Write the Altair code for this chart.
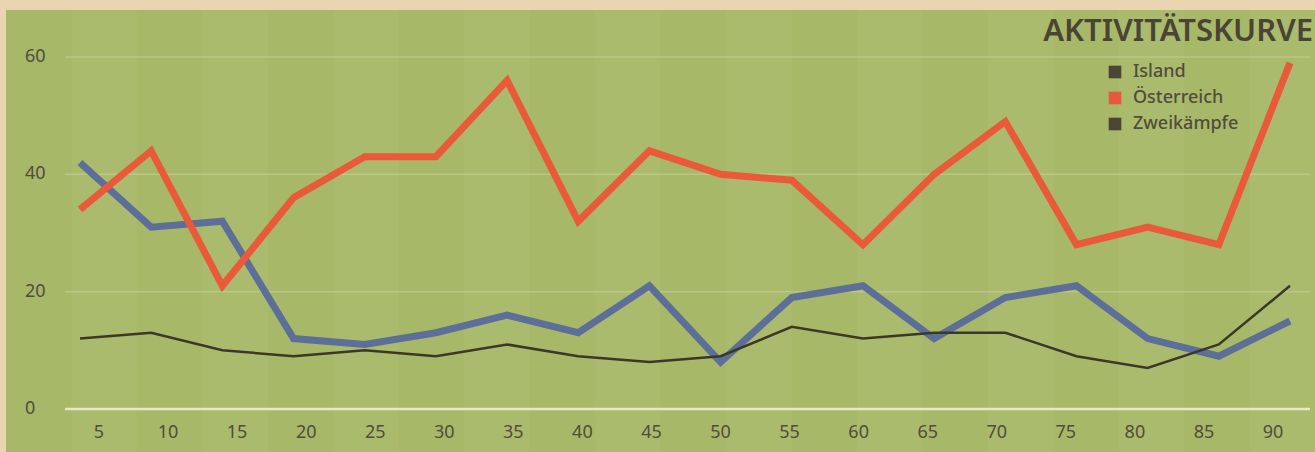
import altair as alt
import pandas as pd

# Match minutes (5-minute intervals)
minutes = [5, 10, 15, 20, 25, 30, 35, 40, 45, 50, 55, 60, 65, 70, 75, 80, 85, 90]

# Activity values per interval
island = [42, 31, 32, 12, 11, 13, 16, 13, 21, 8, 19, 21, 12, 19, 21, 12, 9, 15]
oesterreich = [34, 44, 21, 36, 43, 43, 56, 32, 44, 40, 39, 28, 40, 49, 28, 31, 28, 59]
zweikaempfe = [12, 13, 10, 9, 10, 9, 11, 9, 8, 9, 14, 12, 13, 13, 9, 7, 11, 21]

series_names = ["Island", "Österreich", "Zweikämpfe"]
line_colors = ["#5d6f98", "#e9593a", "#3b3829"]
legend_colors = ["#4b4536", "#e55a3c", "#4b4536"]

y_ticks = [0, 20, 40, 60]
x_ticks = minutes

TEXT = "#524c3c"
FONT = "Noto Sans"

W, H = 1235, 352

df = pd.DataFrame({
    "minute": minutes * 3,
    "value": island + oesterreich + zweikaempfe,
    "series": ["Island"] * 18 + ["Österreich"] * 18 + ["Zweikämpfe"] * 18,
})

x_scale = alt.Scale(domain=[5, 90], range=[15, 1225])
y_scale = alt.Scale(domain=[0, 60])

# green pitch background with faint mowing stripes
green = alt.Chart(pd.DataFrame({"k": [0]})).mark_rect(color="#aab96b").encode(
    x=alt.value(-59), x2=alt.value(1250), y=alt.value(-47), y2=alt.value(395)
)
n_stripes = 20
stripes_df = pd.DataFrame({
    "a": list(range(n_stripes)),
    "b": [i + 1 for i in range(n_stripes)],
    "shade": ["a" if i % 2 == 0 else "b" for i in range(n_stripes)],
})
stripes = alt.Chart(stripes_df).mark_rect(opacity=0.3).encode(
    x=alt.X("a:Q", scale=alt.Scale(domain=[0, n_stripes], range=[-59, 1250]), axis=None),
    x2="b:Q",
    y=alt.value(-47), y2=alt.value(395),
    color=alt.Color("shade:N", scale=alt.Scale(domain=["a", "b"], range=["#a6b567", "#b1bf73"]), legend=None),
)

# faint grid lines and the white zero line
grid = alt.Chart(pd.DataFrame({"v": [20, 40, 60]})).mark_rule(
    color="#f4f0d8", opacity=0.25, strokeWidth=1.5
).encode(y=alt.Y("v:Q", scale=y_scale, axis=None), x=alt.value(0), x2=alt.value(1245))
zero = alt.Chart(pd.DataFrame({"v": [0]})).mark_rule(
    color="#f2ecd0", opacity=0.9, strokeWidth=2.5
).encode(y=alt.Y("v:Q", scale=y_scale, axis=None), x=alt.value(0), x2=alt.value(1245))

# y tick labels
y_labels = alt.Chart(pd.DataFrame({"v": y_ticks})).mark_text(
    align="left", baseline="middle", font=FONT, fontSize=18, color=TEXT
).encode(y=alt.Y("v:Q", scale=y_scale, axis=None), x=alt.value(-40), text="v:Q")

# x tick labels
x_labels = alt.Chart(pd.DataFrame({"m": x_ticks})).mark_text(
    align="center", baseline="middle", font=FONT, fontSize=18, color=TEXT
).encode(
    x=alt.X("m:Q", scale=alt.Scale(domain=[5, 90], range=[34, 1208]), axis=None),
    y=alt.value(376),
    text="m:Q",
)

def series_line(name, color, width):
    return alt.Chart(df[df.series == name]).mark_line(
        color=color, strokeWidth=width, strokeJoin="miter", strokeCap="butt"
    ).encode(
        x=alt.X("minute:Q", scale=x_scale, axis=None),
        y=alt.Y("value:Q", scale=y_scale, axis=None),
    )

line_island = series_line("Island", line_colors[0], 7)
line_at = series_line("Österreich", line_colors[1], 7)
line_zk = series_line("Zweikämpfe", line_colors[2], 2.5)

# title
title = alt.Chart(pd.DataFrame({"t": ["AKTIVITÄTSKURVE"]})).mark_text(
    align="right", baseline="middle", font=FONT, fontSize=31, fontWeight=600, color="#4a4434"
).encode(x=alt.value(1248), y=alt.value(-25), text="t:N")

# legend
leg_df = pd.DataFrame({"row": [0, 1, 2], "name": series_names, "col": legend_colors})
leg_y = alt.Scale(domain=[0, 2], range=[15, 67])
leg_sq = alt.Chart(leg_df).mark_square(size=160, opacity=1).encode(
    y=alt.Y("row:Q", scale=leg_y, axis=None),
    x=alt.value(1050),
    fill=alt.Fill("col:N", scale=None, legend=None),
)
leg_txt = alt.Chart(leg_df).mark_text(
    align="left", baseline="middle", font=FONT, fontSize=18, fontWeight=500, color=TEXT
).encode(y=alt.Y("row:Q", scale=leg_y, axis=None), x=alt.value(1068), text="name:N")

chart = alt.layer(
    green, stripes, grid, zero, y_labels, x_labels,
    line_island, line_at, line_zk, title, leg_sq, leg_txt,
).resolve_scale(x="independent", y="independent", color="independent").properties(
    width=W, height=H,
    autosize=alt.AutoSizeParams(type="none"),
    padding={"left": 65, "top": 57, "right": 15, "bottom": 43},
    background="#ead5b1",
).configure_view(stroke=None)

chart.save("out.html", embed_options={"renderer": "svg", "actions": False})
